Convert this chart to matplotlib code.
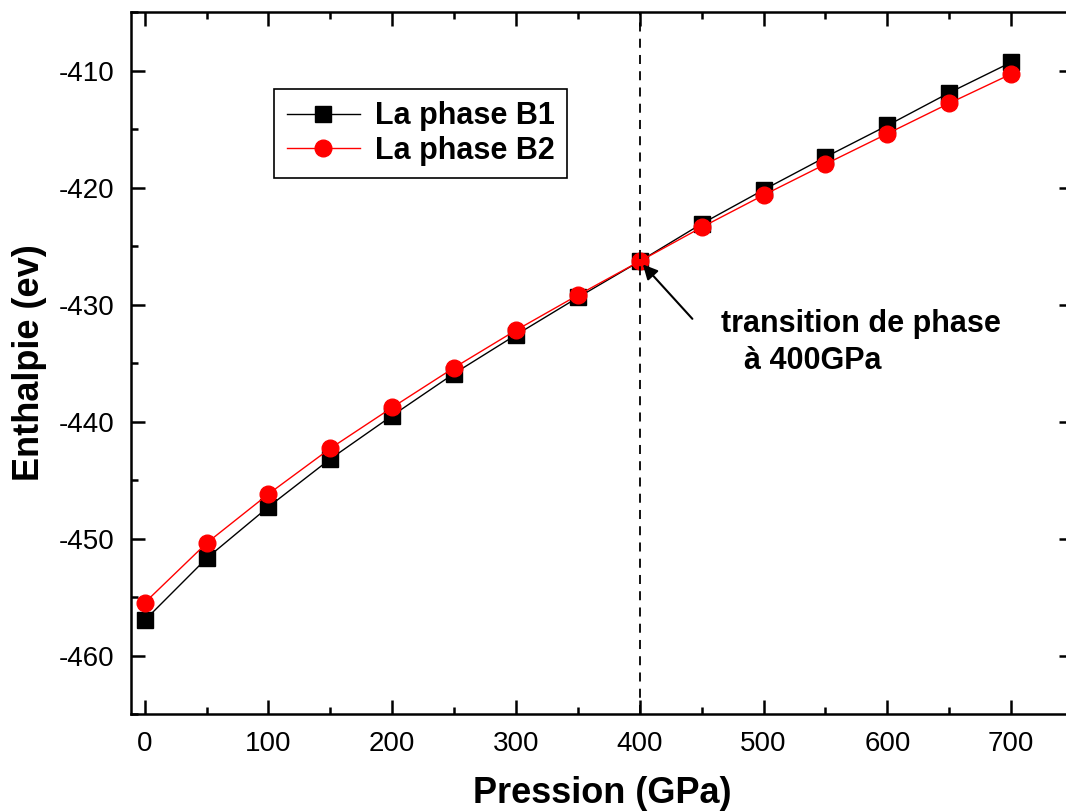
import matplotlib.pyplot as plt
from matplotlib.ticker import MultipleLocator

plt.rcParams['font.family'] = ['Liberation Sans', 'DejaVu Sans']
plt.rcParams['axes.unicode_minus'] = False

pression = [0, 50, 100, 150, 200, 250, 300, 350, 400, 450, 500, 550, 600, 650, 700]
enthalpie_b1 = [-457.0, -451.7, -447.3, -443.2, -439.5, -435.9, -432.6, -429.4,
                -426.3, -423.1, -420.2, -417.4, -414.7, -411.9, -409.3]
enthalpie_b2 = [-455.5, -450.4, -446.2, -442.3, -438.8, -435.4, -432.2, -429.2,
                -426.3, -423.4, -420.65, -418.0, -415.4, -412.8, -410.3]

fig = plt.figure(figsize=(10.66, 8.11), dpi=100)
ax = fig.add_axes([0.1229, 0.1196, 0.8837, 0.8656])

ax.plot(pression, enthalpie_b1, color='black', lw=1, marker='s', ms=11,
        label='La phase B1')
ax.plot(pression, enthalpie_b2, color='red', lw=1, marker='o', ms=12,
        label='La phase B2')

# transition a 400 GPa
ax.axvline(400, color='black', ls='--', lw=1.3, dashes=(5, 4))
ax.annotate('', xy=(401, -426.4), xytext=(444, -431.4),
            arrowprops=dict(arrowstyle='-|>', color='black', lw=1.5,
                            mutation_scale=22))
ax.text(466, -431.7, 'transition de phase', fontsize=22, fontweight='bold',
        ha='left', va='center')
ax.text(484, -434.8, 'à 400GPa', fontsize=22, fontweight='bold',
        ha='left', va='center')

ax.set_xlim(-11, 750)
ax.set_ylim(-465, -405)
ax.xaxis.set_major_locator(MultipleLocator(100))
ax.xaxis.set_minor_locator(MultipleLocator(50))
ax.yaxis.set_major_locator(MultipleLocator(10))
ax.yaxis.set_minor_locator(MultipleLocator(5))
ax.tick_params(which='both', direction='in', top=True, right=True,
               width=1.8, labelsize=20)
ax.tick_params(which='major', length=10, pad=12)
ax.tick_params(which='minor', length=5)
for s in ax.spines.values():
    s.set_linewidth(1.8)

ax.set_xlabel('Pression (GPa)', fontsize=26, fontweight='bold', labelpad=14)
ax.set_ylabel('Enthalpie (ev)', fontsize=26, fontweight='bold', labelpad=8)

leg = ax.legend(loc='upper left', bbox_to_anchor=(0.136, 0.912),
                prop={'weight': 'bold', 'size': 22}, fancybox=False,
                edgecolor='black', framealpha=1, handlelength=2.4,
                borderpad=0.4, labelspacing=0.15, handletextpad=0.5)
leg.get_frame().set_linewidth(1.2)

fig.savefig('out.png', dpi=100)
